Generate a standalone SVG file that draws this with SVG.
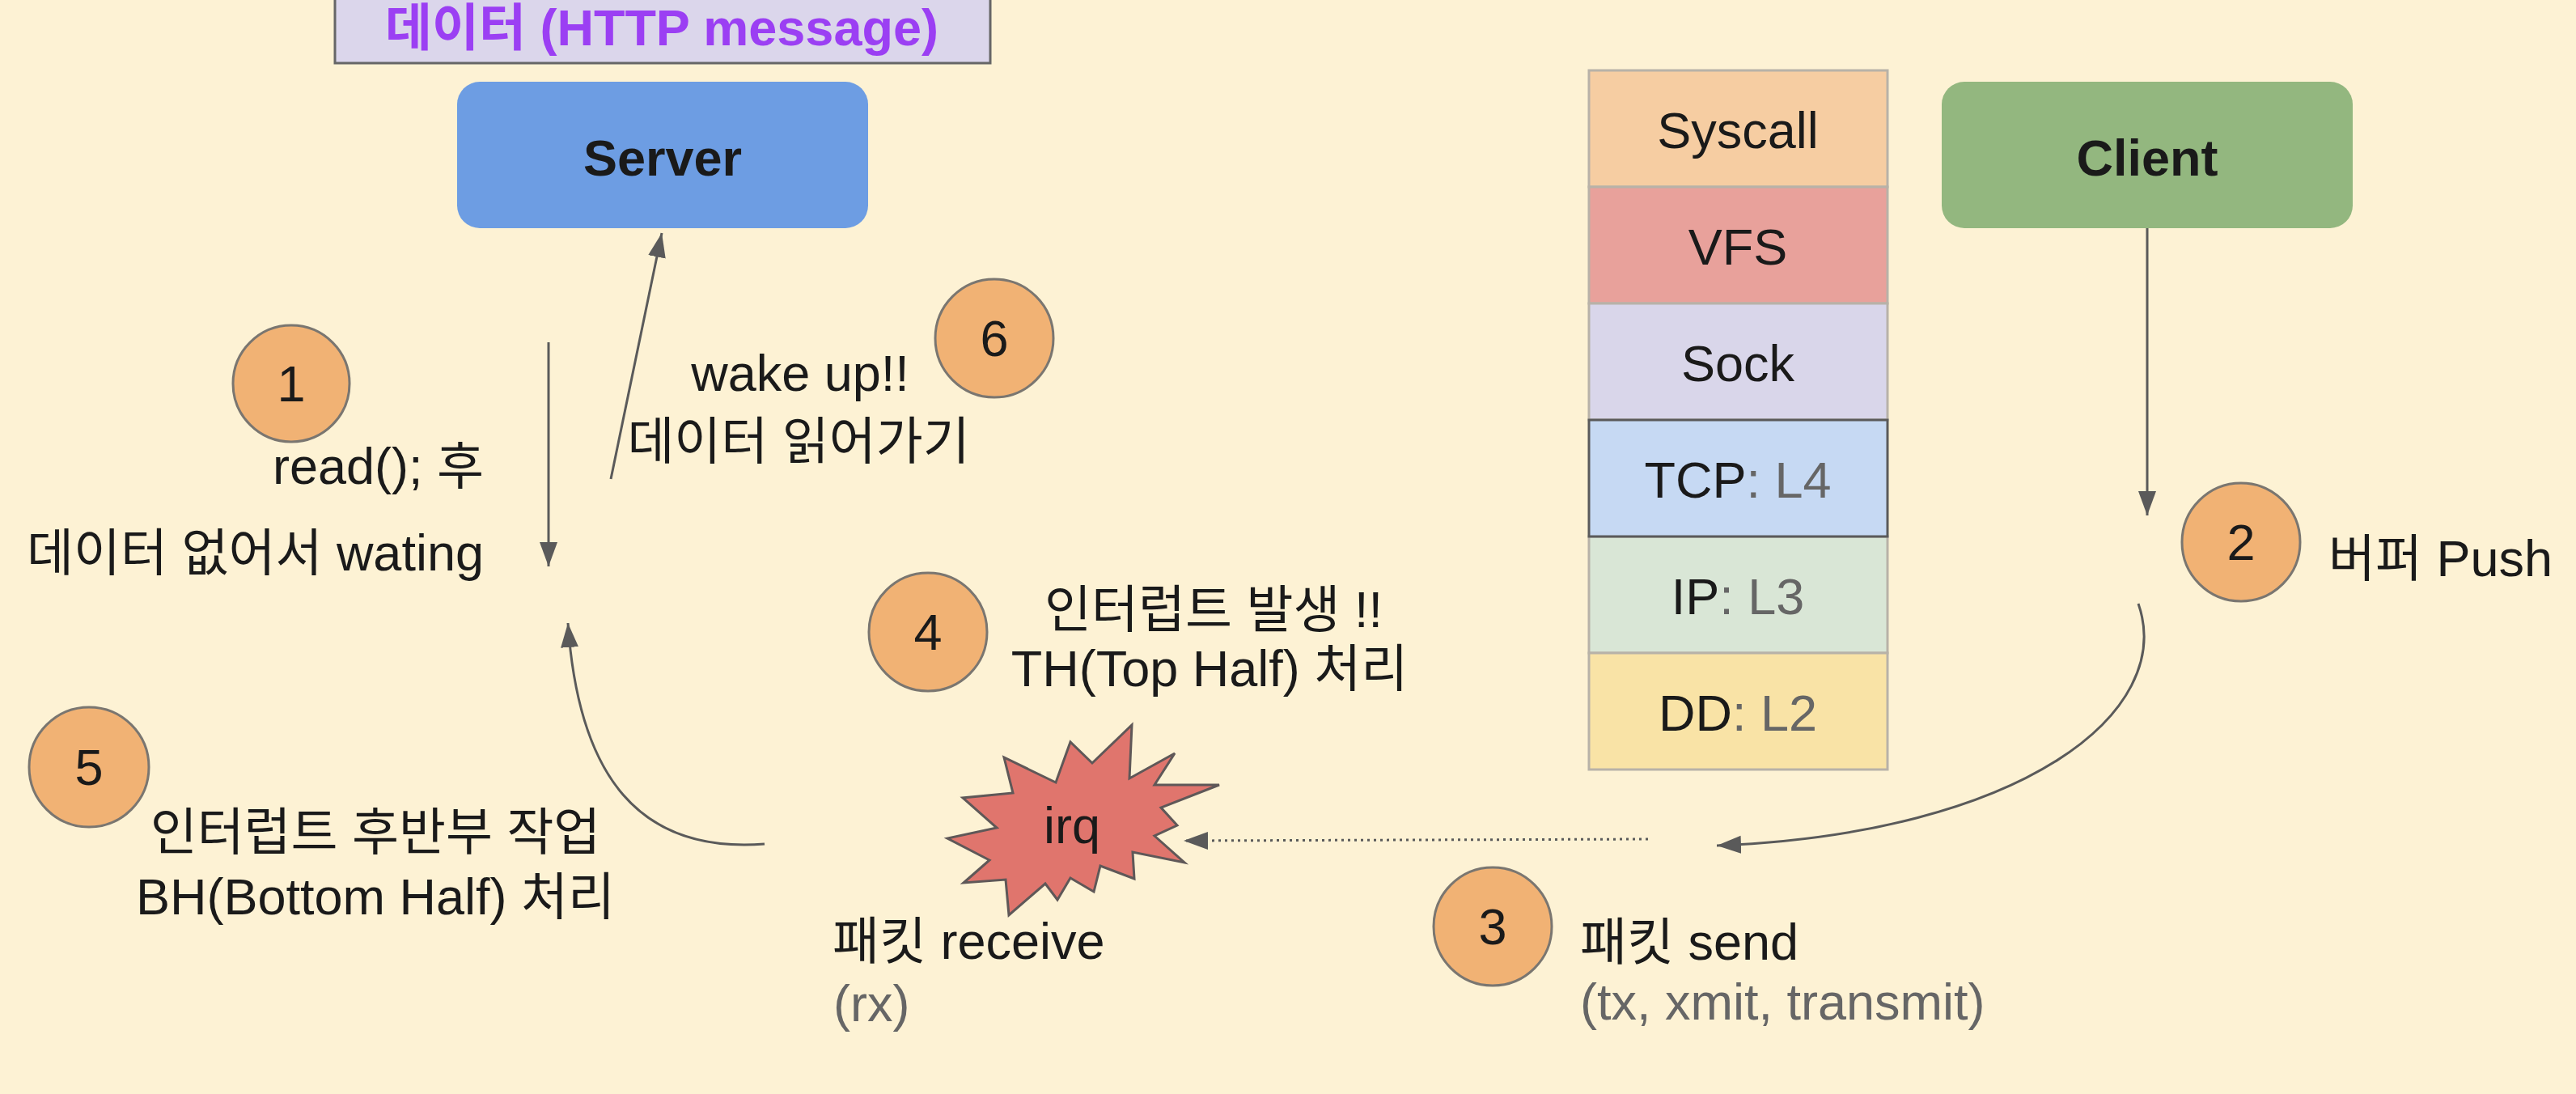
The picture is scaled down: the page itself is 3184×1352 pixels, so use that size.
<svg xmlns="http://www.w3.org/2000/svg" width="3184" height="1352" viewBox="0 0 3184 1352">
<style>
text{font-family:"Liberation Sans","Noto Sans CJK KR",sans-serif;font-size:63px;fill:#1a1a1a}
.b{font-weight:bold}
.c{text-anchor:middle}
.e{text-anchor:end}
.g{fill:#666}
.num{fill:#f1b274;stroke:#7a7670;stroke-width:3}
.row{stroke:#b8b2a8;stroke-width:3}
.ln{fill:none;stroke:#5a5a5a;stroke-width:3}
</style>
<defs>
<marker id="ah" markerUnits="userSpaceOnUse" markerWidth="32" markerHeight="24" refX="30" refY="11" orient="auto">
<path d="M0,0 L30,11 L0,22 z" fill="#5a5a5a"/>
</marker>
</defs>
<rect x="0" y="0" width="3184" height="1352" fill="#fdf2d4"/>

<g id="data-label">
<rect x="414" y="-10" width="810" height="88" fill="#dbd6eb" stroke="#666" stroke-width="3"/>
<text x="818" y="56" class="b c" style="fill:#9b3ff3">데이터 (HTTP message)</text>
</g>

<g id="server">
<rect x="565" y="101" width="508" height="181" rx="28" fill="#6d9de3"/>
<text x="819" y="217" class="b c">Server</text>
</g>

<g id="client">
<rect x="2400" y="101" width="508" height="181" rx="28" fill="#93b77f"/>
<text x="2654" y="217" class="b c">Client</text>
</g>

<g id="stack">
<rect x="1964" y="87" width="369" height="144" fill="#f6cda2" class="row"/>
<text x="2148" y="183" class="c">Syscall</text>
<rect x="1964" y="231" width="369" height="144" fill="#e8a19b" class="row"/>
<text x="2148" y="327" class="c">VFS</text>
<rect x="1964" y="375" width="369" height="144" fill="#d9d6ea" class="row"/>
<text x="2148" y="471" class="c">Sock</text>
<rect x="1964" y="663" width="369" height="144" fill="#d9e6d6" class="row"/>
<text x="2148" y="759" class="c">IP<tspan class="g">: L3</tspan></text>
<rect x="1964" y="807" width="369" height="144" fill="#f9e3a6" class="row"/>
<text x="2148" y="903" class="c">DD<tspan class="g">: L2</tspan></text>
<rect x="1964" y="519" width="369" height="144" fill="#c6d9f3" stroke="#5a5a5a" stroke-width="3"/>
<text x="2148" y="615" class="c">TCP<tspan class="g">: L4</tspan></text>
</g>

<g id="connectors">
<line x1="678" y1="423" x2="678" y2="700" class="ln" marker-end="url(#ah)"/>
<line x1="755" y1="592" x2="818" y2="288" class="ln" stroke-width="2.5" marker-end="url(#ah)"/>
<line x1="2654" y1="282" x2="2654" y2="637" class="ln" marker-end="url(#ah)"/>
<path d="M2643,746 C2690,880 2500,1030 2122,1045" class="ln" marker-end="url(#ah)"/>
<path d="M2037,1037 L1463,1039" class="ln" stroke-dasharray="3 5" marker-end="url(#ah)"/>
<path d="M945,1043 C790,1055 715,960 702,770" class="ln" stroke-width="2.5" marker-end="url(#ah)"/>
</g>

<g id="irq">
<polygon points="1399,896 1396,962 1452,931 1427,970 1507,970 1435,998 1455,1020 1427,1033 1464,1066 1400,1053 1402,1086 1360,1070 1352,1102 1323,1085 1307,1112 1292,1092 1247,1131 1243,1087 1191,1091 1223,1063 1171,1036 1232,1023 1190,986 1252,980 1241,936 1305,967 1323,917 1350,943" fill="#e0756d" stroke="#5f5858" stroke-width="3" stroke-linejoin="miter"/>
<text x="1325" y="1042" class="c">irq</text>
</g>

<g id="step1">
<circle cx="360" cy="474" r="72" class="num"/>
<text x="360" y="496" class="c">1</text>
<text x="598" y="598" class="e">read(); 후</text>
<text x="598" y="705" class="e">데이터 없어서 wating</text>
</g>

<g id="step2">
<circle cx="2770" cy="670" r="73" class="num"/>
<text x="2770" y="692" class="c">2</text>
<text x="2878" y="712">버퍼 Push</text>
</g>

<g id="step3">
<circle cx="1845" cy="1145" r="73" class="num"/>
<text x="1845" y="1167" class="c">3</text>
<text x="1953" y="1186">패킷 send</text>
<text x="1953" y="1260" class="g">(tx, xmit, transmit)</text>
</g>

<g id="step4">
<circle cx="1147" cy="781" r="73" class="num"/>
<text x="1147" y="803" class="c">4</text>
<text x="1500" y="775" class="c">인터럽트 발생 !!</text>
<text x="1495" y="848" class="c">TH(Top Half) 처리</text>
</g>

<g id="step5">
<circle cx="110" cy="948" r="74" class="num"/>
<text x="110" y="970" class="c">5</text>
<text x="464" y="1050" class="c">인터럽트 후반부 작업</text>
<text x="464" y="1130" class="c">BH(Bottom Half) 처리</text>
</g>

<g id="step6">
<circle cx="1229" cy="418" r="73" class="num"/>
<text x="1229" y="440" class="c">6</text>
<text x="989" y="483" class="c">wake up!!</text>
<text x="987" y="567" class="c">데이터 읽어가기</text>
</g>

<g id="rx-label">
<text x="1029" y="1185">패킷 receive</text>
<text x="1030" y="1262" class="g">(rx)</text>
</g>
</svg>
